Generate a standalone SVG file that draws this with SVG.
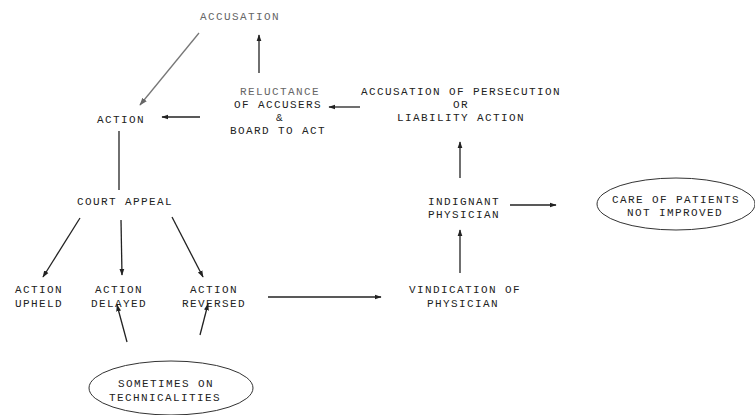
<svg xmlns="http://www.w3.org/2000/svg" width="755" height="415" viewBox="0 0 755 415">
<defs>
<marker id="ah" viewBox="0 0 10 10" refX="9" refY="5" markerWidth="7" markerHeight="7" markerUnits="userSpaceOnUse" orient="auto">
<path d="M0,1.5 L10,5 L0,8.5 Z" fill="#222"/>
</marker>
<marker id="ahg" viewBox="0 0 10 10" refX="9" refY="5" markerWidth="8" markerHeight="8" markerUnits="userSpaceOnUse" orient="auto">
<path d="M0,1.5 L10,5 L0,8.5 Z" fill="#666"/>
</marker>
<style>
text{font-family:"Liberation Mono","Courier New",monospace;font-size:11px;letter-spacing:1.4px;fill:#222;text-anchor:middle}
.lt{fill:#666}
.c line{stroke:#222;stroke-width:1.3;fill:none}
.c line.a{marker-end:url(#ah)}
.c line.g{stroke:#777;marker-end:url(#ahg)}
ellipse{fill:none;stroke:#333;stroke-width:1}
</style>
</defs>
<rect width="755" height="415" fill="#fff"/>
<g id="accusation"><text class="lt" x="240" y="20">ACCUSATION</text></g>
<g id="reluctance">
<text class="lt" x="280" y="95">RELUCTANCE</text>
<text x="278" y="108">OF ACCUSERS</text>
<text x="280" y="121">&amp;</text>
<text x="278" y="134">BOARD TO ACT</text>
</g>
<g id="persecution">
<text x="461" y="95">ACCUSATION OF PERSECUTION</text>
<text x="461" y="108">OR</text>
<text x="461" y="121">LIABILITY ACTION</text>
</g>
<g id="action"><text x="121" y="123">ACTION</text></g>
<g id="court-appeal"><text x="125" y="205">COURT APPEAL</text></g>
<g id="upheld"><text x="39" y="293">ACTION</text><text x="39" y="307">UPHELD</text></g>
<g id="delayed"><text x="119" y="293">ACTION</text><text x="119" y="307">DELAYED</text></g>
<g id="reversed"><text x="214" y="293">ACTION</text><text x="214" y="307">REVERSED</text></g>
<g id="technicalities">
<ellipse cx="171" cy="388" rx="82" ry="27"/>
<text x="166" y="387">SOMETIMES ON</text>
<text x="165" y="401">TECHNICALITIES</text>
</g>
<g id="indignant"><text x="464" y="205">INDIGNANT</text><text x="464" y="218">PHYSICIAN</text></g>
<g id="vindication"><text x="465" y="293">VINDICATION OF</text><text x="463" y="307">PHYSICIAN</text></g>
<g id="care">
<ellipse cx="676" cy="204" rx="79" ry="26"/>
<text x="676" y="203">CARE OF PATIENTS</text>
<text x="675" y="216">NOT IMPROVED</text>
</g>
<g class="c" id="connectors">
<line class="g" x1="199" y1="33" x2="140" y2="105"/>
<line class="a" x1="259" y1="73" x2="259" y2="35"/>
<line class="a" x1="360" y1="107" x2="329" y2="107"/>
<line class="a" x1="200" y1="117" x2="162" y2="117"/>
<line x1="119" y1="131" x2="119" y2="190"/>
<line class="a" x1="80" y1="218" x2="43" y2="277"/>
<line class="a" x1="121" y1="220" x2="122" y2="275"/>
<line class="a" x1="172" y1="217" x2="203" y2="277"/>
<line class="a" x1="268" y1="297" x2="381" y2="297"/>
<line class="a" x1="127" y1="342" x2="117" y2="305"/>
<line class="a" x1="200" y1="335" x2="208" y2="304"/>
<line class="a" x1="460" y1="273" x2="460" y2="230"/>
<line class="a" x1="460" y1="178" x2="460" y2="142"/>
<line class="a" x1="510" y1="205" x2="556" y2="205"/>
</g>
</svg>
